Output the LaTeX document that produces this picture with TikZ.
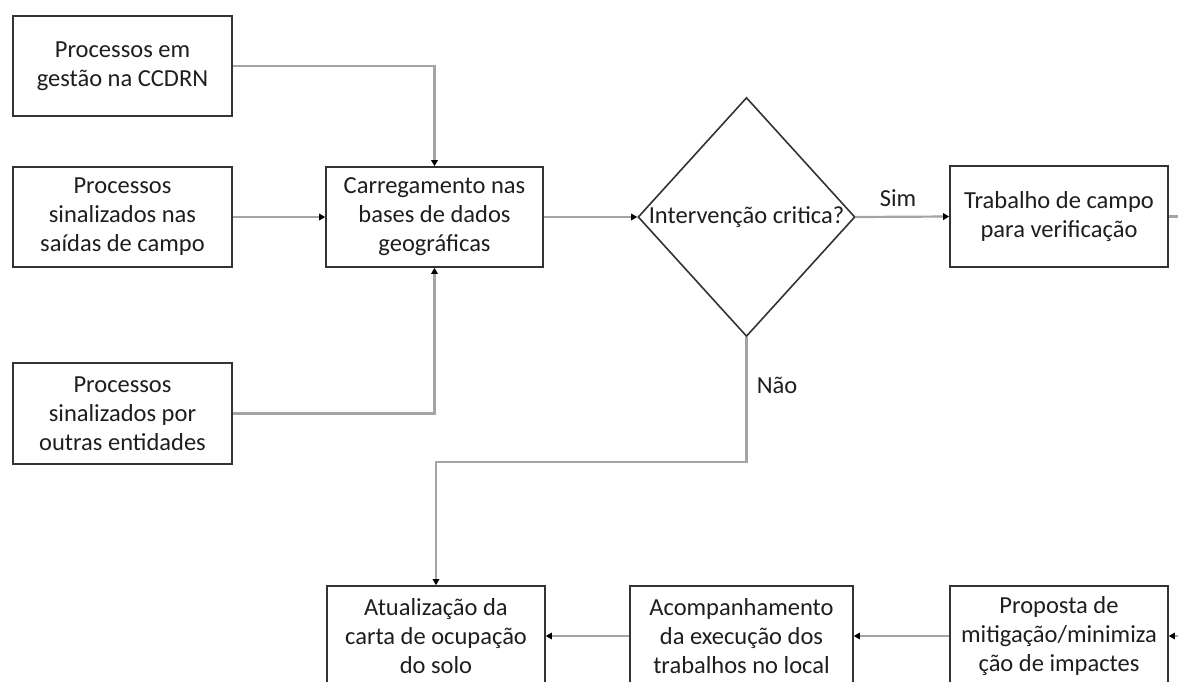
\documentclass[tikz,border=0pt]{standalone}
\usepackage{fontspec}
\setmainfont{Carlito}
\usetikzlibrary{shapes.geometric,arrows.meta}
\definecolor{boxline}{HTML}{333333}
\definecolor{conn}{HTML}{A4A4A4}
\definecolor{txt}{HTML}{1E1E1E}
\tikzset{
  box/.style={draw=boxline, line width=1.6pt, rectangle, align=center, text=txt,
    font=\fontsize{24.5}{29}\selectfont, inner sep=0pt},
  lbl/.style={text=txt, font=\fontsize{24.5}{29}\selectfont, inner sep=0pt},
  conn/.style={draw=conn, line width=2.2pt, -{Triangle[length=6pt,width=6.5pt,color=black]}},
  plain/.style={draw=conn, line width=2.2pt}
}
\begin{document}
\begin{tikzpicture}[x=1pt,y=-1pt]
\useasboundingbox (0,0) rectangle (1178,681);
\clip (0,0) rectangle (1178,681);
\fill[white] (0,0) rectangle (1178,681);
% left column
\node[box, minimum width=219pt, minimum height=100pt] (b1) at (122.5,66) {Processos em\\gestão na CCDRN};
\node[box, minimum width=219pt, minimum height=100pt] (b2) at (122.5,217) {Processos\\sinalizados nas\\saídas de campo};
\node[box, minimum width=219pt, minimum height=101pt] (b3) at (122.5,413.5) {Processos\\sinalizados por\\outras entidades};
% middle
\node[box, minimum width=217pt, minimum height=100pt] (c) at (434.5,217) {Carregamento nas\\bases de dados\\geográficas};
\node[diamond, draw=boxline, line width=1.6pt, minimum width=217pt, minimum height=239pt, inner sep=0pt] (d) at (746.5,217) {};
\node[lbl] (dt) at (d.center) {Intervenção critica?};
\node[box, minimum width=218pt, minimum height=101pt] (t) at (1059,216.5) {Trabalho de campo\\para verificação};
% bottom row
\node[box, minimum width=218pt, minimum height=100pt] (a) at (436,636) {Atualização da\\carta de ocupação\\do solo};
\node[box, minimum width=223pt, minimum height=100pt] (ac) at (741.5,636) {Acompanhamento\\da execução dos\\trabalhos no local};
\node[box, minimum width=218pt, minimum height=100pt] (p) at (1059,636) {Proposta de\\mitigação/minimiza\\ção de impactes};
% labels
\node[lbl] (sim) at (898,198) {Sim};
\node[lbl] (nao) at (777,385) {Não};
% coordinates
\coordinate (tout) at (1178,216.5);
\coordinate (pin) at (1178,636);
\coordinate (nbend) at (746.5,462);
% connectors
\draw[conn] (b1.east) -| (c.north);
\draw[conn] (b2.east) -- (c.west);
\draw[conn] (b3.east) -| (c.south);
\draw[conn] (c.east) -- (d.west);
\draw[conn] (d.east) -- (t.west);
\draw[plain] (t.east) -- (tout);
\draw[conn] (d.south) -- (nbend) -| (a.north);
\draw[conn] (pin) -- (p.east);
\draw[conn] (p.west) -- (ac.east);
\draw[conn] (ac.west) -- (a.east);
\end{tikzpicture}
\end{document}
